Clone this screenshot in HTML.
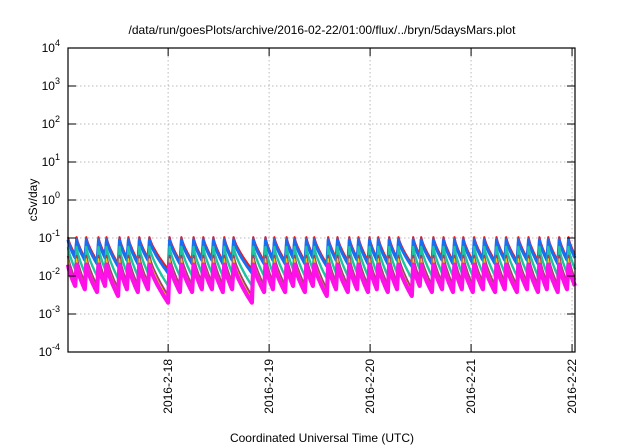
<!DOCTYPE html>
<html><head><meta charset="utf-8"><style>
body{margin:0;background:#fff}
svg{display:block;font-family:"Liberation Sans",sans-serif}
</style></head><body>
<svg id="chart" width="640" height="448" viewBox="0 0 640 448" xmlns="http://www.w3.org/2000/svg">
<rect width="640" height="448" fill="#fff"/>
<text x="322" y="34" text-anchor="middle" font-size="12">/data/run/goesPlots/archive/2016-02-22/01:00/flux/../bryn/5daysMars.plot</text>
<text transform="translate(37,200) rotate(-90)" text-anchor="middle" font-size="12">cSv/day</text>
<text x="322" y="442" text-anchor="middle" font-size="12">Coordinated Universal Time (UTC)</text>
<g id="grid"></g><g id="series"></g><g id="axes"></g>
</svg>
<script>
const peakTimes=[0,1.7,4.0,6.9,8.8,11.9,14.0,16.6,19.0,23.8,26.6,29.5,31.8,34.2,36.8,39.0,43.7,46.6,48.7,51.6,53.5,56.3,58.2,61.5,63.7,66.5,68.7,71.3,73.4,76.0,78.2,81.7,83.6,86.5,88.9,91.5,93.6,96.2,98.6,101.5,103.8,106.7,109.1,111.7,113.8,116.4,118.6];
const endTime=120.5;
const dayLabels=["2016-2-18","2016-2-19","2016-2-20","2016-2-21","2016-2-22"];
const dayTimes=[23.8,47.8,71.8,95.8,119.8];
const yExps=[4,3,2,1,0,-1,-2,-3,-4];
const redPeak=0.105, bluePeak=0.09, cyanPeak=0.058, brownPeak=0.034, yellowPeak=0.028, magentaPeak=0.02;
const redTrough=[.036,.03,.025,.036,.021,.03,.025,.03,.015,.025,.025,.03,.03,.025,.03,.015,.025,.03,.025,.036,.025,.036,.021,.03,.025,.03,.025,.03,.025,.03,.021,.036,.025,.03,.025,.03,.025,.03,.025,.03,.025,.03,.025,.03,.025,.03,.036];
const blueTrough=[.03,.026,.021,.03,.018,.026,.021,.026,.012,.021,.021,.026,.026,.021,.026,.012,.021,.026,.021,.03,.021,.03,.018,.026,.021,.026,.021,.026,.021,.026,.018,.03,.021,.026,.021,.026,.021,.026,.021,.026,.021,.026,.021,.026,.021,.026,.03];
const cyanTrough=[.015,.012,.01,.015,.0085,.012,.01,.012,.0055,.01,.01,.012,.012,.01,.012,.0055,.01,.012,.01,.015,.01,.015,.0085,.012,.01,.012,.01,.012,.01,.012,.0085,.015,.01,.012,.01,.012,.01,.012,.01,.012,.01,.012,.01,.012,.01,.012,.015];
const brownTrough=[.008,.0065,.0055,.008,.0045,.0065,.0055,.0065,.003,.0055,.0055,.0065,.0065,.0055,.0065,.003,.0055,.0065,.0055,.008,.0055,.008,.0045,.0065,.0055,.0065,.0055,.0065,.0055,.0065,.0045,.008,.0055,.0065,.0055,.0065,.0055,.0065,.0055,.0065,.0055,.0065,.0055,.0065,.0055,.0065,.008];
const yellowTrough=[.0065,.0055,.0045,.0065,.0037,.0055,.0045,.0055,.0025,.0045,.0045,.0055,.0055,.0045,.0055,.0025,.0045,.0055,.0045,.0065,.0045,.0065,.0037,.0055,.0045,.0055,.0045,.0055,.0045,.0055,.0037,.0065,.0045,.0055,.0045,.0055,.0045,.0055,.0045,.0055,.0045,.0055,.0045,.0055,.0045,.0055,.0065];
const magentaTrough=[.0055,.0045,.0038,.0055,.003,.0045,.0038,.0045,.002,.0038,.0038,.0045,.0045,.0038,.0045,.002,.0038,.0045,.0038,.0055,.0038,.0055,.003,.0045,.0038,.0045,.0038,.0045,.0038,.0045,.003,.0055,.0038,.0045,.0038,.0045,.0038,.0045,.0038,.0045,.0038,.0045,.0038,.0045,.0038,.0045,.0055];

const L=68,R=575,T=48,B=352;
const xS=t=>L+(t-0)/(endTime-0)*(R-L);
const yS=v=>T+(4-Math.log10(v))/8*(B-T);
const NS="http://www.w3.org/2000/svg";
function mk(tag,parent,attrs){const e=document.createElementNS(NS,tag);for(const k in attrs)e.setAttribute(k,attrs[k]);parent.appendChild(e);return e;}
const grid=document.getElementById('grid'),axes=document.getElementById('axes'),ser=document.getElementById('series');
yExps.forEach(p=>{const y=yS(Math.pow(10,p));
 if(p<4&&p>-4){const g=mk('line',grid,{x1:L,x2:R,y1:y,y2:y,stroke:'#bbb','stroke-dasharray':'1.5,2.5','stroke-width':1});
 
 }
 const t1=mk('line',axes,{x1:L,x2:L+8,y1:y,y2:y,stroke:'#000'});
 
 
 const t2=mk('line',axes,{x1:R-8,x2:R,y1:y,y2:y,stroke:'#000'});
 
 
 const tx=mk('text',axes,{x:60,y:y+4,'text-anchor':'end','font-size':12});
 
 
 tx.textContent='10';const s=mk('tspan',tx,{dy:-6,'font-size':9});s.textContent=String(p);
});
dayTimes.forEach((t,i)=>{const x=xS(t);
 const g=mk('line',grid,{x1:x,x2:x,y1:T,y2:B,stroke:'#bbb','stroke-dasharray':'1.5,2.5','stroke-width':1});
 
 
 const tk=mk('line',axes,{x1:x,x2:x,y1:B,y2:B-8,stroke:'#000'});
 
 
 const tk2=mk('line',axes,{x1:x,x2:x,y1:T,y2:T+8,stroke:'#000'});
 
 
 const tx=mk('text',axes,{transform:`translate(${x+4},${359}) rotate(-90)`,'text-anchor':'end','font-size':12});
 
 
 tx.textContent=dayLabels[i];
});
const fr=mk('rect',axes,{x:L,y:T,width:R-L,height:B-T,fill:'none',stroke:'#000','stroke-width':1.2});


function drawSeries(name,peak,troughs,color,w){
 let d='';
 peakTimes.forEach((t0,i)=>{const t1=i+1<peakTimes.length?peakTimes[i+1]:endTime;
  const ts=i===0?t0:t0+0.35;
  const lp=Math.log10(peak),lt=Math.log10(troughs[i]);
  for(let k=0;k<=14;k++){const f=k/14;const t=ts+(t1-ts)*f;const v=Math.pow(10,lp+(lt-lp)*Math.pow(f,0.75));
   d+=(i===0&&k===0?'M':'L')+xS(t).toFixed(1)+','+yS(v).toFixed(1);}
 });
 const p=mk('path',ser,{d:d,fill:'none',stroke:color,'stroke-width':w,'stroke-linejoin':'round'});
 
 
}
drawSeries('series-red',redPeak,redTrough,'#ff1010',2.2);
drawSeries('series-blue',bluePeak,blueTrough,'#1a6cf0',3);
drawSeries('series-cyan',cyanPeak,cyanTrough,'#1dc4a0',2.4);
drawSeries('series-brown',brownPeak,brownTrough,'#a04070',2.2);
drawSeries('series-yellow',yellowPeak,yellowTrough,'#e8d000',1.4);
drawSeries('series-magenta',magentaPeak,magentaTrough,'#ff10e8',4.2);
</script>
</body></html>
